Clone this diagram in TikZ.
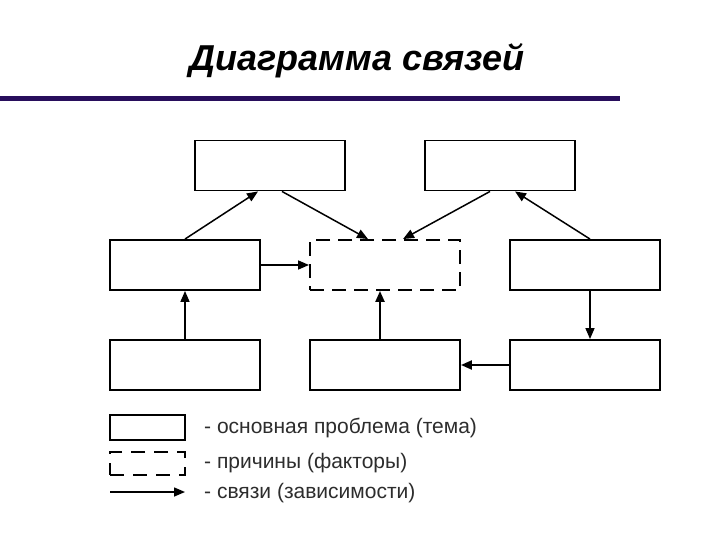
\documentclass[tikz,border=0pt]{standalone}
\usepackage{fontspec}
\setmainfont{Liberation Sans}
\usetikzlibrary{arrows.meta,positioning}

\definecolor{barcolor}{RGB}{40,14,92}
\definecolor{legendtext}{RGB}{45,45,45}

\tikzset{
  topicbox/.style={draw, line width=1.9pt, minimum width=150pt, minimum height=50pt, inner sep=0pt},
  causebox/.style={topicbox, dash pattern=on 14pt off 8pt},
  link/.style={-{Triangle[length=11pt,width=9pt]}, line width=1.5pt},
  strong link/.style={link, line width=2.2pt},
  legendlabel/.style={anchor=west, text=legendtext, font=\fontsize{21}{24}\selectfont, inner sep=0pt}
}

\begin{document}
\begin{tikzpicture}[x=1pt, y=-1pt]
\useasboundingbox[fill=white] (0,0) rectangle (720,540);

% Title and bar
\node (title) at (357,61) {\fontsize{36}{40}\selectfont\bfseries\itshape Диаграмма связей};
\fill[barcolor] (0,96.5) rectangle (620,101.5);

% Top row
\node (tl) [topicbox] at (270,165.5) {};
\node (tr) [topicbox] at (500,165.5) {};

% Middle row
\node (ml) [topicbox] at (185,265) {};
\node (mc) [causebox] at (385,265) {};
\node (mr) [topicbox] at (585,265) {};

% Bottom row
\node (bl) [topicbox] at (185,365) {};
\node (bc) [topicbox] at (385,365) {};
\node (br) [topicbox] at (585,365) {};

% Links
\draw[link] (ml.north) -- ([xshift=-12pt]tl.south);
\draw[link] ([xshift=12pt]tl.south) -- ([xshift=-17pt]mc.north);
\draw[link] ([xshift=-10pt]tr.south) -- ([xshift=18pt]mc.north);
\draw[link] ([xshift=5pt]mr.north) -- ([xshift=15pt]tr.south);
\draw[link] (ml.east) -- (mc.west);
\draw[link] (bl.north) -- (ml.north |- ml.south);
\draw[strong link] ([xshift=-5pt]bc.north) -- ([xshift=-5pt]mc.south);
\draw[link] ([xshift=5pt]mr.south) -- ([xshift=5pt]br.north);
\draw[strong link] (br.west) -- (bc.east);

% Legend
\node (keytopic) [topicbox, minimum width=75pt, minimum height=25pt, line width=1.7pt] at (147.5,427.5) {};
\node (keycause) [causebox, minimum width=75pt, minimum height=23pt, line width=1.7pt, dash pattern=on 14pt off 9pt] at (147.5,463.5) {};
\coordinate (keystart) at (110,492);
\coordinate (keyend) at (185,492);
\draw[link] (keystart) -- (keyend);

\node (topiclabel) [legendlabel] at (204,428) {- основная проблема (тема)};
\node (causelabel) [legendlabel] at (204,463) {- причины (факторы)};
\node (linklabel) [legendlabel] at (204,493) {- связи (зависимости)};

\end{tikzpicture}
\end{document}
